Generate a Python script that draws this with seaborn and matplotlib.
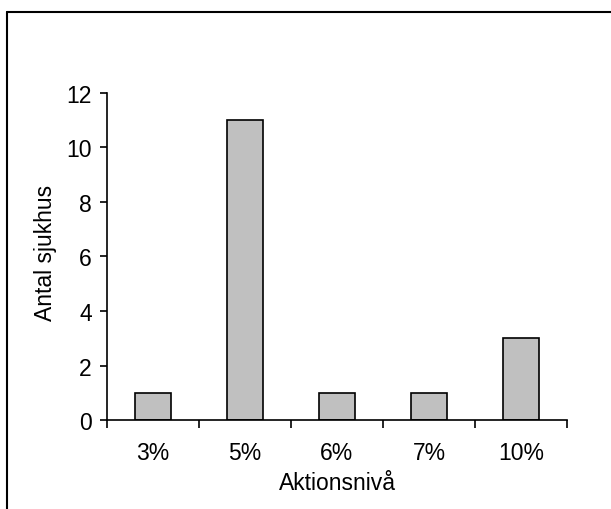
import seaborn as sns
import matplotlib.pyplot as plt
import pandas as pd
from matplotlib.lines import Line2D

## Data
levels = ["3%", "5%", "6%", "7%", "10%"]
hospitals = [1, 11, 1, 1, 3]

df = pd.DataFrame({"level": levels, "count": hospitals})

sns.set_style("white")
plt.rcParams["font.family"] = ["Liberation Sans", "DejaVu Sans"]
plt.rcParams["text.color"] = "black"
plt.rcParams["axes.labelcolor"] = "black"
plt.rcParams["xtick.color"] = "black"
plt.rcParams["ytick.color"] = "black"

fig = plt.figure(figsize=(6.11, 5.10), dpi=100)
ax = fig.add_axes([0.175, 0.1745, 0.753, 0.6412])

sns.barplot(data=df, x="level", y="count", order=levels, color="#C0C0C0",
            width=0.4, edgecolor="black", linewidth=1.2, saturation=1, ax=ax)

# Excel style axes: ticks between categories, labels centred
ax.set_xlim(-0.5, len(levels) - 0.5)
ax.set_ylim(0, 12)
ax.set_yticks(range(0, 13, 2))
ax.set_xticks([i - 0.5 for i in range(len(levels) + 1)])
ax.set_xticklabels([])
ax.set_xticks(range(len(levels)), minor=True)
ax.set_xticklabels(levels, minor=True)
ax.tick_params(axis="x", which="major", bottom=True, direction="out", length=6, width=1.2, color="black")
ax.tick_params(axis="x", which="minor", bottom=False, length=0, pad=15, labelsize=16.5)
ax.tick_params(axis="y", left=True, direction="out", length=5, width=1.2, color="black", labelsize=16.5, pad=6)

for side in ["top", "right"]:
    ax.spines[side].set_visible(False)
for side in ["left", "bottom"]:
    ax.spines[side].set_color("black")
    ax.spines[side].set_linewidth(1.2)

ax.set_xlabel("Aktionsnivå", fontsize=16.5, labelpad=5)
ax.set_ylabel("Antal sjukhus", fontsize=16.5)
ax.yaxis.set_label_coords(-0.109, 0.515)

# outer frame (chart area border)
fig.add_artist(Line2D([7 / 611, 1], [1 - 12.5 / 510, 1 - 12.5 / 510], color="black", lw=1.5))
fig.add_artist(Line2D([7 / 611, 7 / 611], [0, 1 - 12.5 / 510], color="black", lw=1.5))

fig.savefig("out.png", dpi=100)
